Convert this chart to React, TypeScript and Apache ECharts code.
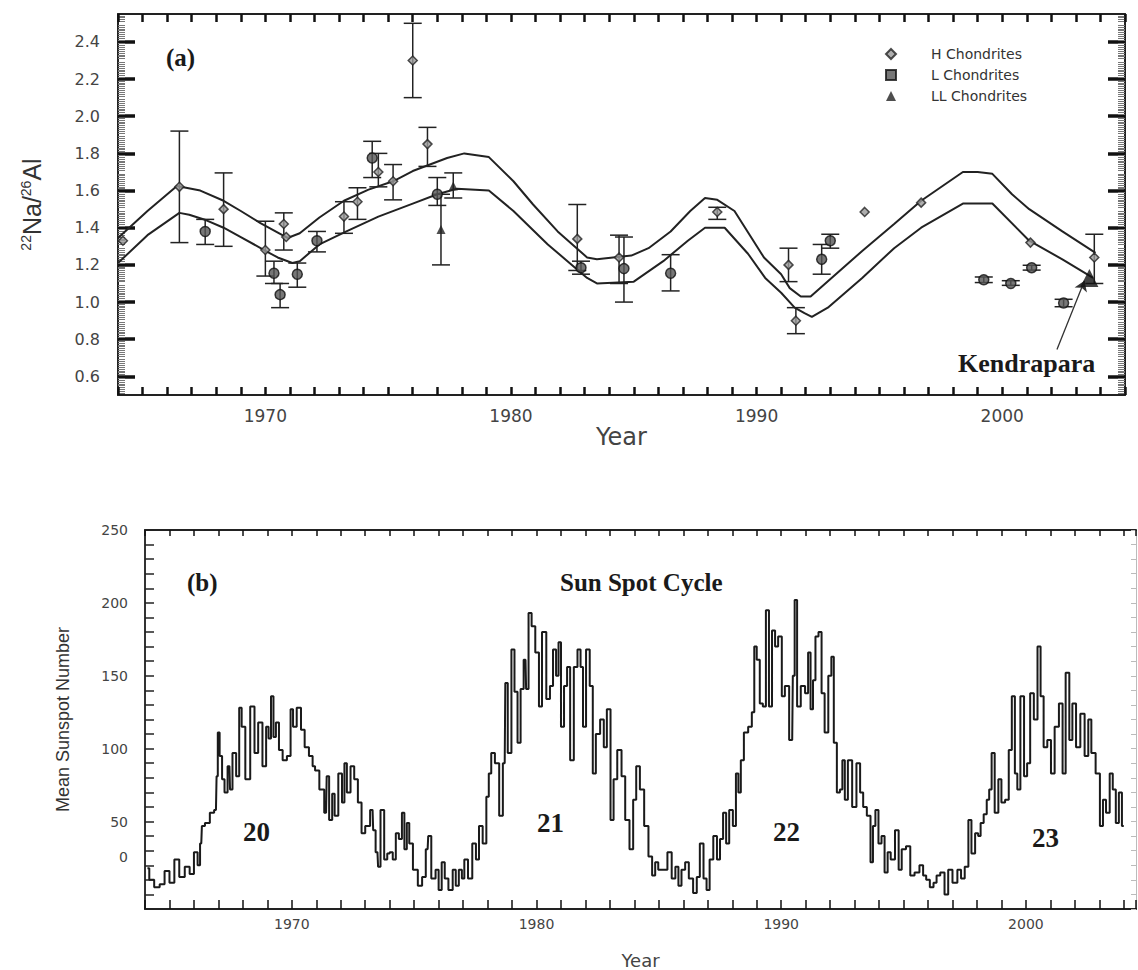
import React, { useEffect, useRef } from 'react';
import * as echarts from 'echarts';

// ---------- Panel (a): 22Na/26Al ratios ----------
const upperYears = [1964.0, 1965.2, 1966.4, 1967.35, 1968.3, 1969.0, 1969.8, 1970.9, 1971.4, 1972.2, 1973.2, 1974.2, 1975.2, 1976.0, 1977.4, 1978.1, 1979.1, 1980.1, 1980.9, 1981.9, 1983.1, 1983.5, 1984.9, 1985.6, 1986.5, 1987.3, 1987.9, 1988.4, 1989.1, 1989.7, 1990.3, 1991.0, 1991.35, 1991.8, 1992.2, 1994.3, 1995.6, 1996.7, 1998.4, 1999.0, 1999.6, 2000.4, 2001.1, 2002.45, 2003.8];
const upperValues = [1.345, 1.49, 1.625, 1.6, 1.545, 1.49, 1.425, 1.345, 1.37, 1.455, 1.545, 1.605, 1.65, 1.705, 1.775, 1.8, 1.78, 1.65, 1.525, 1.38, 1.24, 1.23, 1.25, 1.29, 1.38, 1.49, 1.56, 1.55, 1.49, 1.365, 1.24, 1.15, 1.075, 1.03, 1.03, 1.275, 1.42, 1.545, 1.7, 1.7, 1.69, 1.58, 1.5, 1.38, 1.265];

const lowerYears = [1964.0, 1965.2, 1966.5, 1966.9, 1967.6, 1968.3, 1969.0, 1969.95, 1970.5, 1971.1, 1971.4, 1972.2, 1973.3, 1974.6, 1976.0, 1977.0, 1977.8, 1979.1, 1980.1, 1981.5, 1982.3, 1983.1, 1983.5, 1985.0, 1986.2, 1987.2, 1987.9, 1988.7, 1989.65, 1990.35, 1991.0, 1991.55, 1991.95, 1992.25, 1992.9, 1994.3, 1995.6, 1996.7, 1998.4, 1999.6, 2001.1, 2002.45, 2003.7];
const lowerValues = [1.21, 1.36, 1.48, 1.47, 1.44, 1.4, 1.35, 1.28, 1.24, 1.21, 1.22, 1.31, 1.38, 1.46, 1.53, 1.58, 1.61, 1.6, 1.49, 1.31, 1.22, 1.13, 1.1, 1.11, 1.22, 1.33, 1.4, 1.4, 1.26, 1.13, 1.05, 0.97, 0.94, 0.92, 0.97, 1.13, 1.29, 1.4, 1.53, 1.53, 1.33, 1.23, 1.13];

const hYears = [1964.2, 1966.5, 1968.3, 1970.0, 1970.75, 1970.85, 1973.2, 1973.75, 1974.6, 1975.2, 1976.0, 1976.6, 1982.7, 1984.4, 1988.4, 1991.3, 1991.6, 1994.4, 1996.7, 2001.15, 2003.75];
const hValues = [1.33, 1.62, 1.5, 1.28, 1.42, 1.35, 1.46, 1.54, 1.7, 1.65, 2.3, 1.85, 1.34, 1.24, 1.485, 1.2, 0.9, 1.485, 1.535, 1.32, 1.24];
const hLow = [1.33, 1.32, 1.3, 1.14, 1.28, 1.35, 1.37, 1.445, 1.62, 1.55, 2.1, 1.73, 1.17, 1.1, 1.445, 1.11, 0.83, 1.485, 1.535, 1.32, 1.1];
const hHigh = [1.33, 1.92, 1.695, 1.435, 1.48, 1.35, 1.54, 1.615, 1.8, 1.74, 2.5, 1.94, 1.525, 1.36, 1.51, 1.29, 0.97, 1.485, 1.535, 1.32, 1.365];

const lYears = [1967.55, 1970.35, 1970.6, 1971.3, 1972.1, 1974.35, 1977.0, 1982.85, 1984.6, 1986.5, 1992.65, 1993.0, 1999.25, 2000.35, 2001.2, 2002.5];
const lValues = [1.38, 1.155, 1.04, 1.15, 1.33, 1.775, 1.58, 1.185, 1.18, 1.155, 1.23, 1.33, 1.12, 1.1, 1.185, 0.995];
const lLow = [1.31, 1.1, 0.97, 1.08, 1.27, 1.67, 1.52, 1.15, 1.0, 1.06, 1.15, 1.29, 1.105, 1.09, 1.172, 0.975];
const lHigh = [1.445, 1.22, 1.1, 1.21, 1.38, 1.865, 1.67, 1.22, 1.35, 1.255, 1.31, 1.365, 1.135, 1.115, 1.198, 1.015];

const llYears = [1977.15, 1977.65];
const llValues = [1.39, 1.625];
const llLow = [1.2, 1.56];
const llHigh = [1.58, 1.695];

const kendraparaYear = 2003.55;
const kendraparaValue = 1.13;

const ratioTicks = [0.6, 0.8, 1.0, 1.2, 1.4, 1.6, 1.8, 2.0, 2.2, 2.4];
const yearLabels = [1970, 1980, 1990, 2000];

// ---------- Panel (b): monthly mean sunspot number ----------
const sunYears = [1964.1, 1964.25, 1964.5, 1964.7, 1964.9, 1965.1, 1965.3, 1965.5, 1965.75, 1965.9, 1966.1, 1966.2, 1966.3, 1966.35, 1966.55, 1966.75, 1966.9, 1966.95, 1967.0, 1967.1, 1967.2, 1967.3, 1967.45, 1967.5, 1967.65, 1967.8, 1967.9, 1968.0, 1968.2, 1968.4, 1968.55, 1968.7, 1968.9, 1969.0, 1969.1, 1969.2, 1969.3, 1969.4, 1969.55, 1969.7, 1969.9, 1970.0, 1970.1, 1970.3, 1970.45, 1970.6, 1970.8, 1970.9, 1971.0, 1971.25, 1971.4, 1971.45, 1971.6, 1971.7, 1971.8, 1972.0, 1972.1, 1972.2, 1972.3, 1972.5, 1972.6, 1972.8, 1972.9, 1973.1, 1973.3, 1973.35, 1973.5, 1973.55, 1973.7, 1973.85, 1973.95, 1974.05, 1974.2, 1974.3, 1974.45, 1974.55, 1974.65, 1974.75, 1974.85, 1975.05, 1975.25, 1975.4, 1975.55, 1975.6, 1975.8, 1975.95, 1976.05, 1976.2, 1976.3, 1976.5, 1976.65, 1976.75, 1976.9, 1977.0, 1977.1, 1977.3, 1977.45, 1977.6, 1977.7, 1977.9, 1978.0, 1978.1, 1978.2, 1978.4, 1978.55, 1978.7, 1978.75, 1978.9, 1979.05, 1979.15, 1979.3, 1979.4, 1979.55, 1979.6, 1979.75, 1979.85, 1980.05, 1980.15, 1980.3, 1980.5, 1980.6, 1980.75, 1980.85, 1980.95, 1981.05, 1981.2, 1981.3, 1981.45, 1981.6, 1981.75, 1981.85, 1981.95, 1982.1, 1982.25, 1982.35, 1982.5, 1982.7, 1982.8, 1982.95, 1983.1, 1983.2, 1983.4, 1983.55, 1983.7, 1983.9, 1984.0, 1984.15, 1984.3, 1984.5, 1984.65, 1984.8, 1984.9, 1985.05, 1985.25, 1985.45, 1985.6, 1985.75, 1985.85, 1986.0, 1986.15, 1986.3, 1986.5, 1986.6, 1986.75, 1986.9, 1987.0, 1987.15, 1987.3, 1987.45, 1987.55, 1987.7, 1987.8, 1987.95, 1988.1, 1988.2, 1988.3, 1988.4, 1988.55, 1988.75, 1988.85, 1988.95, 1989.05, 1989.2, 1989.3, 1989.45, 1989.55, 1989.7, 1989.8, 1989.95, 1990.1, 1990.2, 1990.45, 1990.5, 1990.6, 1990.7, 1990.9, 1991.05, 1991.15, 1991.25, 1991.35, 1991.45, 1991.6, 1991.7, 1991.85, 1992.0, 1992.1, 1992.2, 1992.35, 1992.45, 1992.55, 1992.65, 1992.8, 1993.0, 1993.15, 1993.3, 1993.4, 1993.6, 1993.7, 1993.8, 1993.9, 1994.05, 1994.15, 1994.3, 1994.4, 1994.55, 1994.75, 1994.85, 1995.0, 1995.2, 1995.35, 1995.55, 1995.75, 1995.85, 1996.0, 1996.15, 1996.3, 1996.4, 1996.6, 1996.75, 1996.9, 1997.1, 1997.3, 1997.4, 1997.6, 1997.7, 1997.85, 1998.0, 1998.1, 1998.2, 1998.35, 1998.45, 1998.55, 1998.65, 1998.8, 1998.95, 1999.05, 1999.25, 1999.35, 1999.5, 1999.6, 1999.7, 1999.85, 2000.0, 2000.1, 2000.25, 2000.4, 2000.55, 2000.65, 2000.8, 2000.95, 2001.1, 2001.25, 2001.45, 2001.55, 2001.7, 2001.85, 2001.95, 2002.15, 2002.3, 2002.5, 2002.6, 2002.75, 2002.95, 2003.1, 2003.2, 2003.35, 2003.5, 2003.6, 2003.75, 2003.85, 2004.0];
const sunValues = [18, 10, 5, 7, 16, 8, 24, 12, 19, 14, 29, 20, 35, 47, 49, 56, 58, 81, 111, 95, 79, 70, 88, 72, 97, 81, 128, 115, 79, 129, 97, 118, 88, 115, 107, 136, 108, 118, 99, 92, 95, 127, 115, 128, 113, 101, 95, 88, 85, 72, 56, 81, 51, 69, 54, 83, 63, 90, 70, 88, 79, 63, 42, 47, 58, 44, 29, 19, 58, 24, 28, 29, 24, 42, 38, 56, 31, 49, 35, 17, 6, 12, 31, 40, 11, 17, 3, 22, 11, 3, 17, 6, 17, 11, 24, 11, 35, 24, 47, 35, 67, 83, 97, 90, 54, 90, 145, 97, 168, 139, 104, 141, 161, 141, 193, 184, 166, 129, 180, 134, 143, 168, 150, 173, 115, 143, 156, 92, 156, 168, 156, 115, 168, 143, 83, 110, 120, 101, 127, 51, 79, 99, 81, 51, 31, 65, 88, 72, 47, 26, 13, 22, 17, 17, 29, 11, 19, 6, 17, 22, 11, 1, 12, 35, 11, 3, 24, 40, 24, 38, 56, 35, 58, 47, 83, 70, 92, 111, 115, 125, 170, 161, 131, 129, 195, 129, 181, 170, 177, 136, 143, 106, 150, 202, 129, 143, 138, 166, 127, 147, 177, 180, 138, 111, 150, 163, 104, 70, 72, 92, 65, 92, 60, 90, 70, 60, 54, 22, 47, 58, 35, 40, 15, 29, 24, 44, 17, 31, 33, 13, 15, 20, 13, 10, 5, 8, 13, 15, 0, 17, 8, 17, 11, 19, 51, 28, 42, 40, 49, 55, 65, 72, 97, 56, 79, 63, 65, 99, 136, 83, 72, 136, 81, 90, 138, 120, 170, 136, 101, 106, 83, 115, 131, 83, 152, 106, 131, 101, 124, 95, 120, 97, 83, 47, 65, 56, 83, 72, 49, 70, 47];

const sunLabels = [50, 100, 150, 200, 250];

const zip = (xs: number[], ys: number[]) => xs.map((x, i) => [x, ys[i]]);
const errData = (xs: number[], lo: number[], hi: number[]) => xs.map((x, i) => [x, lo[i], hi[i]]);

const errorRender = (params: any, api: any) => {
  const x = api.value(0);
  const lo = api.value(1);
  const hi = api.value(2);
  if (Math.abs(hi - lo) < 1e-9) return null;
  const t = api.coord([x, hi]);
  const b = api.coord([x, lo]);
  const w = 9;
  const st = { stroke: '#222', lineWidth: 1.5 };
  return {
    type: 'group',
    children: [
      { type: 'line', shape: { x1: t[0], y1: t[1], x2: b[0], y2: b[1] }, style: st },
      { type: 'line', shape: { x1: t[0] - w, y1: t[1], x2: t[0] + w, y2: t[1] }, style: st },
      { type: 'line', shape: { x1: b[0] - w, y1: b[1], x2: b[0] + w, y2: b[1] }, style: st },
    ],
  };
};

const tickFont = 'DejaVu Sans';
const serif = 'Liberation Serif';

function buildOption() {
  const xBase = (gridIndex: number, max: number, position: string, len: number, w: number) => ({
    type: 'value',
    gridIndex,
    position,
    min: 1964,
    max,
    interval: 1,
    axisLine: { show: true, onZero: false, lineStyle: { color: '#222', width: 2 } },
    axisTick: { show: true, inside: true, length: len, lineStyle: { color: '#111', width: w } },
    splitLine: { show: false },
  });

  const text = (t: string, x: number, y: number, size: number, extra: any = {}) => ({
    type: 'text',
    x,
    y,
    silent: true,
    style: {
      text: t,
      fontSize: size,
      fontWeight: 'bold',
      fontFamily: serif,
      fill: '#1a1a1a',
      verticalAlign: 'middle',
      ...extra,
    },
  });

  return {
    animation: false,
    backgroundColor: '#ffffff',
    grid: [
      { left: 118, top: 14, width: 1007, height: 381 },
      { left: 145, top: 530, width: 991, height: 380 },
    ],
    legend: {
      show: true,
      orient: 'vertical',
      left: 880,
      top: 42,
      itemWidth: 10,
      itemHeight: 10,
      itemGap: 7,
      symbolKeepAspect: true,
      selectedMode: false,
      data: [
        { name: 'H Chondrites', icon: 'diamond' },
        { name: 'L Chondrites', icon: 'rect' },
        { name: 'LL Chondrites', icon: 'triangle' },
      ],
      textStyle: { fontSize: 14, color: '#333', fontFamily: tickFont, padding: [0, 0, 0, 30] },
    },
    xAxis: [
      {
        ...xBase(0, 2005, 'bottom', 8, 2.5),
        axisLabel: {
          customValues: yearLabels,
          formatter: (v: number) => String(v),
          margin: 12,
          fontSize: 17,
          color: '#444',
          fontFamily: tickFont,
        },
        name: 'Year',
        nameLocation: 'middle',
        nameGap: 26,
        nameTextStyle: { fontSize: 24, color: '#444', fontFamily: tickFont },
      },
      { ...xBase(0, 2005, 'top', 8, 2.5), axisLabel: { show: false } },
      {
        ...xBase(1, 2004.5, 'bottom', 9, 1.5),
        axisLabel: {
          customValues: yearLabels,
          formatter: (v: number) => String(v),
          margin: 8,
          fontSize: 14,
          color: '#444',
          fontFamily: tickFont,
        },
        name: 'Year',
        nameLocation: 'middle',
        nameGap: 42,
        nameTextStyle: { fontSize: 18, color: '#444', fontFamily: tickFont },
      },
      { ...xBase(1, 2004.5, 'top', 6, 1.5), axisLabel: { show: false } },
    ],
    yAxis: [
      {
        type: 'value',
        gridIndex: 0,
        position: 'left',
        min: 0.5,
        max: 2.55,
        interval: 0.1,
        axisLine: { show: true, lineStyle: { color: '#222', width: 2 } },
        axisTick: { show: true, inside: true, length: 17, customValues: ratioTicks, lineStyle: { color: '#111', width: 3.5 } },
        minorTick: { show: true, splitNumber: 10, length: 7, lineStyle: { color: '#777', width: 1 } },
        splitLine: { show: false },
        minorSplitLine: { show: false },
        axisLabel: {
          customValues: ratioTicks,
          formatter: (v: number) => v.toFixed(1),
          margin: 18,
          fontSize: 16,
          color: '#444',
          fontFamily: tickFont,
        },
        name: '{sup|22}{m|Na/}{sup|26}{m|Al}',
        nameLocation: 'middle',
        nameRotate: 90,
        nameGap: 74,
        nameTextStyle: {
          color: '#333',
          fontFamily: 'Liberation Sans',
          fontSize: 24,
          rich: {
            m: { fontSize: 25, fontFamily: 'Liberation Sans', color: '#333' },
            sup: { fontSize: 14, fontFamily: 'Liberation Sans', color: '#333', verticalAlign: 'top' },
          },
        },
      },
      {
        type: 'value',
        gridIndex: 0,
        position: 'right',
        min: 0.5,
        max: 2.55,
        interval: 0.1,
        axisLine: { show: true, lineStyle: { color: '#222', width: 2 } },
        axisTick: { show: true, inside: true, length: 17, customValues: ratioTicks, lineStyle: { color: '#111', width: 3.5 } },
        minorTick: { show: true, splitNumber: 10, length: 7, lineStyle: { color: '#777', width: 1 } },
        splitLine: { show: false },
        minorSplitLine: { show: false },
        axisLabel: { show: false },
      },
      {
        type: 'value',
        gridIndex: 1,
        position: 'left',
        min: -10,
        max: 250,
        interval: 10,
        axisLine: { show: true, lineStyle: { color: '#333', width: 2 } },
        axisTick: { show: true, inside: true, length: 9, lineStyle: { color: '#222', width: 1.5 } },
        splitLine: { show: false },
        axisLabel: {
          customValues: sunLabels,
          formatter: (v: number) => String(v),
          margin: 17,
          fontSize: 14,
          color: '#444',
          fontFamily: tickFont,
        },
        name: 'Mean Sunspot Number',
        nameLocation: 'middle',
        nameRotate: 90,
        nameGap: 73,
        nameTextStyle: { fontSize: 18, color: '#333', fontFamily: 'Liberation Sans' },
      },
      {
        type: 'value',
        gridIndex: 1,
        position: 'right',
        min: -10,
        max: 250,
        interval: 10,
        axisLine: { show: true, lineStyle: { color: '#bbb', width: 1 } },
        axisTick: { show: true, inside: true, length: 5, lineStyle: { color: '#bbb', width: 1 } },
        splitLine: { show: false },
        axisLabel: { show: false },
      },
    ],
    graphic: [
      text('(a)', 166, 57, 25),
      text('Kendrapara', 958, 363, 26),
      text('(b)', 187, 582, 25),
      text('Sun Spot Cycle', 560, 582, 25),
      text('20', 243, 832, 27),
      text('21', 537, 823, 27),
      text('22', 773, 832, 27),
      text('23', 1032, 838, 27),
      {
        type: 'text',
        x: 128,
        y: 857,
        silent: true,
        style: { text: '0', fontSize: 14, fontFamily: tickFont, fill: '#444', align: 'right', verticalAlign: 'middle' },
      },
    ],
    series: [
      {
        type: 'line',
        name: 'upper',
        xAxisIndex: 0,
        yAxisIndex: 0,
        data: zip(upperYears, upperValues),
        showSymbol: false,
        lineStyle: { color: '#222', width: 2 },
        silent: true,
        z: 2,
      },
      {
        type: 'line',
        name: 'lower',
        xAxisIndex: 0,
        yAxisIndex: 0,
        data: zip(lowerYears, lowerValues),
        showSymbol: false,
        lineStyle: { color: '#222', width: 2 },
        silent: true,
        z: 2,
      },
      {
        type: 'custom',
        name: 'H err',
        xAxisIndex: 0,
        yAxisIndex: 0,
        renderItem: errorRender,
        data: errData(hYears, hLow, hHigh),
        encode: { x: 0, y: [1, 2] },
        silent: true,
        z: 3,
      },
      {
        type: 'custom',
        name: 'L err',
        xAxisIndex: 0,
        yAxisIndex: 0,
        renderItem: errorRender,
        data: errData(lYears, lLow, lHigh),
        encode: { x: 0, y: [1, 2] },
        silent: true,
        z: 3,
      },
      {
        type: 'custom',
        name: 'LL err',
        xAxisIndex: 0,
        yAxisIndex: 0,
        renderItem: errorRender,
        data: errData(llYears, llLow, llHigh),
        encode: { x: 0, y: [1, 2] },
        silent: true,
        z: 3,
      },
      {
        type: 'scatter',
        name: 'H Chondrites',
        xAxisIndex: 0,
        yAxisIndex: 0,
        data: zip(hYears, hValues),
        symbol: 'diamond',
        symbolSize: 9,
        itemStyle: { color: '#9a9a9a', borderColor: '#222', borderWidth: 1.5 },
        z: 4,
      },
      {
        type: 'scatter',
        name: 'L Chondrites',
        xAxisIndex: 0,
        yAxisIndex: 0,
        data: zip(lYears, lValues),
        symbol: 'circle',
        symbolSize: 10,
        itemStyle: { color: '#555', borderColor: '#111', borderWidth: 1.5 },
        z: 4,
      },
      {
        type: 'scatter',
        name: 'LL Chondrites',
        xAxisIndex: 0,
        yAxisIndex: 0,
        data: zip(llYears, llValues),
        symbol: 'triangle',
        symbolSize: 9,
        itemStyle: { color: '#222' },
        z: 4,
      },
      {
        type: 'scatter',
        name: 'Kendrapara',
        xAxisIndex: 0,
        yAxisIndex: 0,
        data: [[kendraparaYear, kendraparaValue]],
        symbol: 'triangle',
        symbolSize: 18,
        itemStyle: { color: '#111' },
        z: 5,
        markLine: {
          silent: true,
          symbol: ['none', 'arrow'],
          symbolSize: 10,
          label: { show: false },
          lineStyle: { color: '#333', width: 1.3, type: 'solid' },
          data: [[{ coord: [2002.23, 0.745] }, { coord: [2003.35, 1.115] }]],
        },
      },
      {
        type: 'line',
        name: 'Sunspot number',
        xAxisIndex: 2,
        yAxisIndex: 2,
        data: zip(sunYears, sunValues),
        step: 'middle',
        showSymbol: false,
        lineStyle: { color: '#1a1a1a', width: 2 },
        silent: true,
      },
    ],
  };
}

export default function App() {
  const ref = useRef<HTMLDivElement>(null);
  useEffect(() => {
    if (!ref.current) return;
    const chart = echarts.init(ref.current, null, { renderer: 'svg' });
    chart.setOption(buildOption() as any);
    return () => chart.dispose();
  }, []);
  return (
    <div
      ref={ref}
      style={{ position: 'fixed', left: 0, top: 0, width: 1138, height: 970, background: '#fff' }}
    />
  );
}
